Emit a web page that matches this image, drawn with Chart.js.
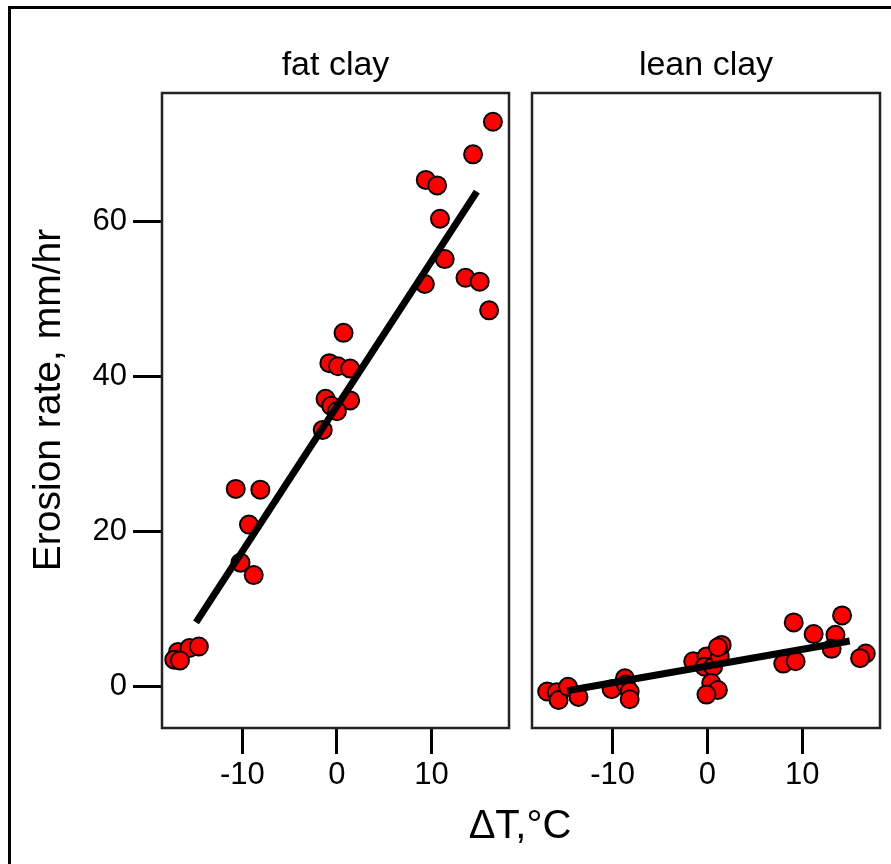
<!DOCTYPE html>
<html>
<head>
<meta charset="utf-8">
<script src="https://cdn.jsdelivr.net/npm/chart.js"></script>
<style>
  body { margin: 0; background: #fff; width: 891px; height: 864px; overflow: hidden; position: relative; font-family: "Liberation Sans", Arial, sans-serif; }
  #frame { position: absolute; left: 8px; top: 6px; width: 900px; height: 900px; border: 3px solid #000; }
  #fatCanvas { position: absolute; left: 0; top: 0; }
  #leanCanvas { position: absolute; left: 520px; top: 0; }
  #xTitle { position: absolute; left: 420px; width: 200px; top: 804px; text-align: center; font-size: 40px; line-height: 40px; color: #000; }
</style>
</head>
<body>
<div id="frame"></div>
<canvas id="fatCanvas" width="520" height="864"></canvas>
<canvas id="leanCanvas" width="371" height="864"></canvas>
<div id="xTitle">ΔT,°C</div>
<script>
// fat clay measurements
const fatX = [16.5, 14.4, 9.4, 10.6, 10.9, 11.4, 9.3, 13.6, 15.1, 16.1,
              0.7, -0.8, 0.1, 1.4, -1.2, -0.6, 1.4, 0.0, -1.5,
              -10.7, -8.1, -9.3, -10.2, -8.8,
              -16.8, -15.6, -14.6, -17.2, -16.6];
const fatY = [72.8, 68.6, 65.3, 64.6, 60.3, 55.1, 51.9, 52.7, 52.2, 48.5,
              45.6, 41.7, 41.3, 41.0, 37.1, 36.2, 36.9, 35.5, 33.1,
              25.5, 25.4, 20.9, 16.0, 14.4,
              4.5, 5.0, 5.2, 3.5, 3.4];
// lean clay measurements
const leanX = [-16.9, -15.9, -15.7, -14.7, -13.6, -10.1, -8.7, -8.6, -8.2, -8.2,
               -1.5, -0.1, -0.3, 0.6, 1.3, 1.5, 1.1, 0.4, 1.1, -0.1,
               9.1, 14.2, 11.2, 13.5, 13.1, 8.0, 9.3, 16.7, 16.1];
const leanY = [-0.6, -0.7, -1.7, 0.0, -1.3, -0.3, 1.1, 0.3, -0.6, -1.6,
               3.3, 3.9, 2.6, 2.6, 3.9, 5.4, 5.1, 0.5, -0.4, -1.0,
               8.3, 9.2, 6.8, 6.7, 4.9, 3.0, 3.3, 4.3, 3.7];
// fitted lines (end points)
const fatFitX = [-14.9, 14.8];
const fatFitY = [8.3, 63.8];
const leanFitX = [-14.8, 15.0];
const leanFitY = [-0.5, 5.9];

const xTicks = [-10, 0, 10];
const yTicks = [0, 20, 40, 60];
const xMin = -18.5, xMax = 18.2;
const yMin = -5.3, yMax = 76.5;

const FONT = '"Liberation Sans", Arial, sans-serif';

Chart.defaults.font.family = FONT;
Chart.defaults.color = '#000';

function toPoints(xs, ys) {
    return xs.map((x, i) => ({ x: x, y: ys[i] }));
}

/*** panel box, panel title, y title ***/
const panelDeco = {
    id: 'panelDeco',
    afterDatasetsDraw(chart, args, opts) {
        const a = chart.chartArea;
        const ctx = chart.ctx;
        ctx.save();
        ctx.strokeStyle = '#222';
        ctx.lineWidth = 2.5;
        ctx.strokeRect(a.left, a.top, a.right - a.left, a.bottom - a.top);
        ctx.fillStyle = '#000';
        ctx.font = '34px ' + FONT;
        ctx.textAlign = 'center';
        ctx.textBaseline = 'alphabetic';
        ctx.fillText(opts.text, (a.left + a.right) / 2, 75);
        if (opts.yTitle) {
            ctx.translate(60, 400);
            ctx.rotate(-Math.PI / 2);
            ctx.font = '39px ' + FONT;
            ctx.fillText(opts.yTitle, 0, 0);
        }
        ctx.restore();
    }
};

function makeDatasets(xs, ys, fx, fy) {
    return [
        {
            type: 'line',
            data: toPoints(fx, fy),
            borderColor: '#000',
            borderWidth: 7,
            pointRadius: 0,
            fill: false,
            order: 0
        },
        {
            type: 'scatter',
            data: toPoints(xs, ys),
            backgroundColor: '#ff0000',
            borderColor: '#000',
            borderWidth: 2,
            pointRadius: 9,
            pointHoverRadius: 9,
            order: 1
        }
    ];
}

function xScale() {
    return {
        type: 'linear',
        min: xMin,
        max: xMax,
        afterBuildTicks: s => { s.ticks = xTicks.map(v => ({ value: v })); },
        afterFit: s => { s.height = 136; },
        border: { display: false },
        grid: { drawOnChartArea: false, drawTicks: true, tickLength: 26, tickWidth: 3, tickColor: '#000' },
        ticks: { color: '#000', font: { size: 31 }, padding: 3, maxRotation: 0 }
    };
}

new Chart(document.getElementById('fatCanvas'), {
    data: { datasets: makeDatasets(fatX, fatY, fatFitX, fatFitY) },
    options: {
        responsive: false,
        animation: false,
        devicePixelRatio: 1,
        layout: { padding: { left: 0, right: 10, top: 93, bottom: 0 } },
        scales: {
            x: xScale(),
            y: {
                type: 'linear',
                min: yMin,
                max: yMax,
                afterBuildTicks: s => { s.ticks = yTicks.map(v => ({ value: v })); },
                afterFit: s => { s.width = 162; },
                border: { display: false },
                grid: { drawOnChartArea: false, drawTicks: true, tickLength: 29, tickWidth: 3, tickColor: '#000' },
                ticks: { color: '#000', font: { size: 31 }, padding: 6 }
            }
        },
        plugins: {
            legend: { display: false },
            tooltip: { enabled: false },
            panelDeco: { text: 'fat clay', yTitle: 'Erosion rate, mm/hr' }
        }
    },
    plugins: [panelDeco]
});

new Chart(document.getElementById('leanCanvas'), {
    data: { datasets: makeDatasets(leanX, leanY, leanFitX, leanFitY) },
    options: {
        responsive: false,
        animation: false,
        devicePixelRatio: 1,
        layout: { padding: { left: 12, right: 10, top: 93, bottom: 0 } },
        scales: {
            x: xScale(),
            y: { type: 'linear', min: yMin, max: yMax, display: false }
        },
        plugins: {
            legend: { display: false },
            tooltip: { enabled: false },
            panelDeco: { text: 'lean clay' }
        }
    },
    plugins: [panelDeco]
});
</script>
</body>
</html>
